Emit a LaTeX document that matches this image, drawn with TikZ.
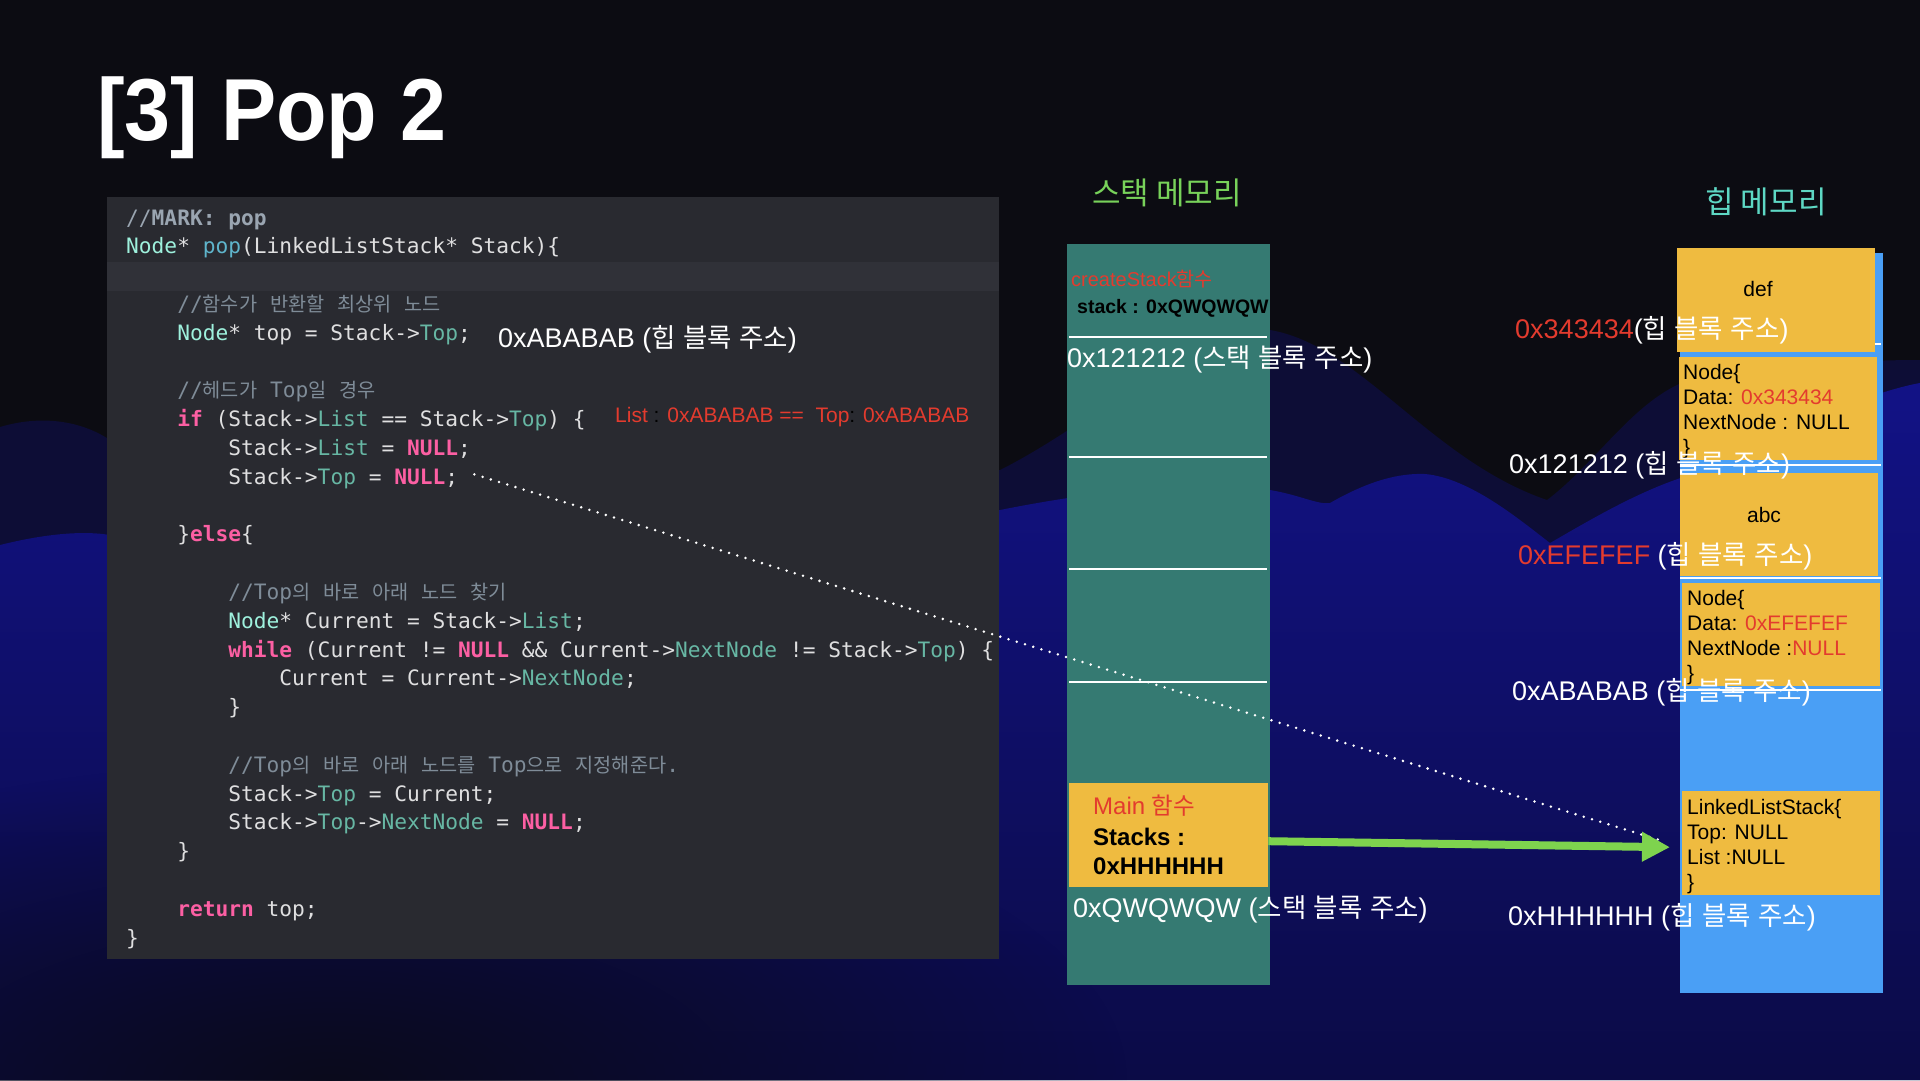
\documentclass[tikz,border=0pt]{standalone}
\usepackage{fontspec}
\usepackage{graphicx}
\setmainfont{Liberation Sans}
\setmonofont{DejaVu Sans Mono}
\newfontfamily\krfont[Scale=0.98]{Noto Sans CJK KR}
\newfontfamily\krcfont[Scale=0.93]{Noto Sans CJK KR}
\newfontfamily\krtfont{Noto Sans CJK KR}
\usetikzlibrary{arrows.meta,calc,fadings}
\definecolor{bgdark}{HTML}{0C0C12}
\definecolor{farnavy}{HTML}{0D0D36}
\definecolor{bluetop}{HTML}{121286}
\definecolor{bluebot}{HTML}{0B0B46}
\definecolor{botdark}{HTML}{0A0A1C}
\definecolor{panelc}{HTML}{292A30}
\definecolor{bandc}{HTML}{303138}
\definecolor{cplain}{HTML}{DFDFE0}
\definecolor{ccom}{HTML}{7F8C98}
\definecolor{cmark}{HTML}{9AA5B1}
\definecolor{ckey}{HTML}{FC5FA3}
\definecolor{ctype}{HTML}{9EF1DD}
\definecolor{cprop}{HTML}{67B7A4}
\definecolor{cfunc}{HTML}{5FB5CC}
\definecolor{cred}{HTML}{E33B2E}
\definecolor{stackc}{HTML}{357A72}
\definecolor{heapc}{HTML}{4A9FF5}
\definecolor{yelc}{HTML}{EFBB40}
\definecolor{cgreen}{HTML}{7ED34E}
\definecolor{stitle}{HTML}{78D25A}
\definecolor{htitle}{HTML}{5ED8C4}
\newcommand\hk[1]{{\krfont #1}}
\newcommand\hkc[1]{{\krcfont #1}}
\newcommand\kwd[1]{{\bfseries\color{ckey}#1}}
\newcommand\typ[1]{{\color{ctype}#1}}
\newcommand\prp[1]{{\color{cprop}#1}}
\newcommand\fnc[1]{{\color{cfunc}#1}}
\newcommand\cmt[1]{{\color{ccom}#1}}
\tikzfading[name=blobfade, inner color=transparent!0, outer color=transparent!100]
\begin{document}
\begin{tikzpicture}[x=1pt,y=-1pt,
  code/.style={anchor=base west, inner sep=0, font=\fontsize{21.2}{25}\ttfamily, text=cplain},
  lbl/.style={anchor=base west, inner sep=0, font=\fontsize{27}{30}\selectfont, text=white},
  htx/.style={anchor=base west, inner sep=0, font=\fontsize{21}{25}\selectfont, text=black},
  stx/.style={anchor=base west, inner sep=0, font=\fontsize{24}{28}\selectfont\bfseries, text=black},
  ybox/.style={fill=yelc, draw=none, inner sep=0, anchor=north west},
  sepline/.style={draw=white, line width=2.5pt},
  dotline/.style={draw=white, line width=2.8pt, line cap=round, dash pattern=on 0pt off 8.6pt},
  garrow/.style={draw=cgreen, line width=8pt, -{Triangle[length=28pt,width=28pt]}},
  memtitle/.style={inner sep=0, font=\fontsize{31}{34}\krtfont}
]
\useasboundingbox (0,0) rectangle (1920,1080);
% ---------- background ----------
\fill[bgdark] (0,0) rectangle (1920,1080);
\fill[farnavy] (0,427) .. controls (40,415) and (80,420) .. (110,440)
  .. controls (400,520) and (800,520) .. (1000,470)
  .. controls (1100,420) and (1200,322) .. (1270,330)
  .. controls (1360,345) and (1430,460) .. (1547,500)
  .. controls (1600,460) and (1640,390) .. (1700,377)
  .. controls (1800,362) and (1880,360) .. (1920,360)
  -- (1920,1080) -- (0,1080) -- cycle;
\shade[top color=bluetop, bottom color=bluebot]
  (0,545) .. controls (40,535) and (80,530) .. (110,535)
  .. controls (500,560) and (900,540) .. (1000,510)
  .. controls (1100,490) and (1200,480) .. (1270,490)
  .. controls (1300,495) and (1318,505) .. (1330,503)
  .. controls (1370,480) and (1400,473) .. (1425,474)
  .. controls (1470,478) and (1520,520) .. (1550,543)
  .. controls (1590,520) and (1640,490) .. (1690,475)
  .. controls (1800,420) and (1880,390) .. (1920,383)
  -- (1920,1080) -- (0,1080) -- cycle;
\fill[botdark, path fading=blobfade] (330,1080) ellipse [x radius=800, y radius=320];
% ---------- title ----------
\node[anchor=base west, inner sep=0, text=white, font=\fontsize{88}{92}\selectfont\bfseries] (title) at (97,140) {\scalebox{0.94}[1]{[3] Pop 2}};
% ---------- code panel ----------
\node[fill=panelc, draw=none, inner sep=0, anchor=north west, minimum width=892pt, minimum height=762pt] (panel) at (107,197) {};
\fill[bandc] (107,262) rectangle (999,291);
\node[code] (l0) at (126,225) {\color{cmark}//\textbf{MARK: pop}};
\node[code] (l1) at (126,253.8) {\typ{Node}* \fnc{pop}(LinkedListStack* Stack)\{};
\node[code] (l3) at (177.1,311.4) {\cmt{//\hkc{함수가} \hkc{반환할} \hkc{최상위} \hkc{노드}}};
\node[code] (l4) at (177.1,340.2) {\typ{Node}* top = Stack->\prp{Top};};
\node[code] (l6) at (177.1,397.8) {\cmt{//\hkc{헤드가} Top\hkc{일} \hkc{경우}}};
\node[code] (l7) at (177.1,426.6) {\kwd{if} (Stack->\prp{List} == Stack->\prp{Top}) \{};
\node[code] (l8) at (228.2,455.4) {Stack->\prp{List} = \kwd{NULL};};
\node[code] (l9) at (228.2,484.2) {Stack->\prp{Top} = \kwd{NULL};};
\node[code] (l11) at (177.1,541.8) {\}\kwd{else}\{};
\node[code] (l13) at (228.2,599.4) {\cmt{//Top\hkc{의} \hkc{바로} \hkc{아래} \hkc{노드} \hkc{찾기}}};
\node[code] (l14) at (228.2,628.2) {\typ{Node}* Current = Stack->\prp{List};};
\node[code] (l15) at (228.2,657) {\kwd{while} (Current != \kwd{NULL} \&\& Current->\prp{NextNode} != Stack->\prp{Top}) \{};
\node[code] (l16) at (279.2,685.8) {Current = Current->\prp{NextNode};};
\node[code] (l17) at (228.2,714.6) {\}};
\node[code] (l19) at (228.2,772.2) {\cmt{//Top\hkc{의} \hkc{바로} \hkc{아래} \hkc{노드를} Top\hkc{으로} \hkc{지정해준다}.}};
\node[code] (l20) at (228.2,801) {Stack->\prp{Top} = Current;};
\node[code] (l21) at (228.2,829.8) {Stack->\prp{Top}->\prp{NextNode} = \kwd{NULL};};
\node[code] (l22) at (177.1,858.6) {\}};
\node[code] (l24) at (177.1,916.2) {\kwd{return} top;};
\node[code] (l25) at (126,945) {\}};
% annotations in code
\node[lbl] (ca1) at (498,347) {0xABABAB (\hk{힙} \hk{블록} \hk{주소})};
\node[anchor=base west, inner sep=0, font=\fontsize{21}{24}\selectfont, text=cred] (eq) at (615,422) {List \textcolor{black}{:} 0xABABAB ==\ \ Top\textcolor{black}{:} 0xABABAB};
% ---------- stack memory ----------
\node[memtitle, text=stitle] (st) at (1167,193) {스택 메모리};
\node[fill=stackc, draw=none, inner sep=0, anchor=north west, minimum width=203pt, minimum height=741pt] (stk) at (1067,244) {};
\draw[sepline] (1069,337) -- (1267,337);
\draw[sepline] (1069,457) -- (1267,457);
\draw[sepline] (1069,569) -- (1267,569);
\draw[sepline] (1069,682) -- (1267,682);
\node[anchor=base west, inner sep=0, font=\fontsize{20}{24}\selectfont, text=cred] (cs1) at (1071,286) {createStack\hk{함수}};
\node[anchor=base west, inner sep=0, font=\fontsize{19.5}{24}\selectfont\bfseries, text=black] (cs2) at (1077,313) {stack : 0xQWQWQW};
\node[ybox, minimum width=199pt, minimum height=104pt] (mainbox) at (1069,783) {};
\node[anchor=base west, inner sep=0, font=\fontsize{24}{28}\selectfont, text=cred] (m1) at (1093,814) {Main \hk{함수}};
\node[stx] (m2) at (1093,845) {Stacks :};
\node[stx] (m3) at (1093,874) {0xHHHHHH};
\node[lbl] (sa1) at (1067,367) {0x121212 (\hk{스택} \hk{블록} \hk{주소})};
\node[lbl] (sa2) at (1073,917) {0xQWQWQW (\hk{스택} \hk{블록} \hk{주소})};
% ---------- heap memory ----------
\node[memtitle, text=htitle] (ht) at (1766,202) {힙 메모리};
\node[fill=heapc, draw=none, inner sep=0, anchor=north west, minimum width=203pt, minimum height=740pt] (heap) at (1680,253) {};
\draw[sepline] (1680,344) -- (1881,344);
\draw[sepline] (1680,465) -- (1881,465);
\draw[sepline] (1680,578) -- (1881,578);
\draw[sepline] (1680,690) -- (1881,690);
\node[ybox, minimum width=198pt, minimum height=104pt] (defbox) at (1677,248) {};
\node[anchor=base, inner sep=0, font=\fontsize{21}{25}\selectfont, text=black] (deft) at (1758,296) {def};
\node[ybox, minimum width=198pt, minimum height=103pt] (hn1) at (1679,357) {};
\node[htx] (h11) at (1683,379) {Node\{};
\node[htx] (h12) at (1683,404) {Data: \textcolor{cred}{0x343434}};
\node[htx] (h13) at (1683,429) {NextNode : NULL};
\node[htx] (h14) at (1683,454) {\}};
\node[ybox, minimum width=198pt, minimum height=103pt] (abcbox) at (1680,473) {};
\node[anchor=base, inner sep=0, font=\fontsize{21}{25}\selectfont, text=black] (abct) at (1764,522) {abc};
\node[ybox, minimum width=198pt, minimum height=103pt] (hn2) at (1682,583) {};
\node[htx] (h21) at (1687,605) {Node\{};
\node[htx] (h22) at (1687,630) {Data: \textcolor{cred}{0xEFEFEF}};
\node[htx] (h23) at (1687,655) {NextNode :\textcolor{cred}{NULL}};
\node[htx] (h24) at (1687,680) {\}};
\node[ybox, minimum width=198pt, minimum height=104pt] (lls) at (1682,791) {};
\node[htx] (h31) at (1687,814) {LinkedListStack\{};
\node[htx] (h32) at (1687,839) {Top: NULL};
\node[htx] (h33) at (1687,864) {List :NULL};
\node[htx] (h34) at (1687,889) {\}};
\node[lbl] (ha1) at (1515,338) {\textcolor{cred}{0x343434}(\hk{힙} \hk{블록} \hk{주소})};
\node[lbl] (ha2) at (1509,473) {0x121212 (\hk{힙} \hk{블록} \hk{주소})};
\node[lbl] (ha3) at (1518,564) {\textcolor{cred}{0xEFEFEF} (\hk{힙} \hk{블록} \hk{주소})};
\node[lbl] (ha4) at (1512,700) {0xABABAB (\hk{힙} \hk{블록} \hk{주소})};
\node[lbl] (ha5) at (1508,925) {0xHHHHHH (\hk{힙} \hk{블록} \hk{주소})};
% ---------- connectors ----------
\draw[dotline] ($(l9.east)+(16,-4)$) -- ($(lls.west)+(-22,-3)$);
\draw[garrow] ($(mainbox.east)+(0,6)$) -- ($(lls.west)+(-12,4)$);
\end{tikzpicture}
\end{document}
